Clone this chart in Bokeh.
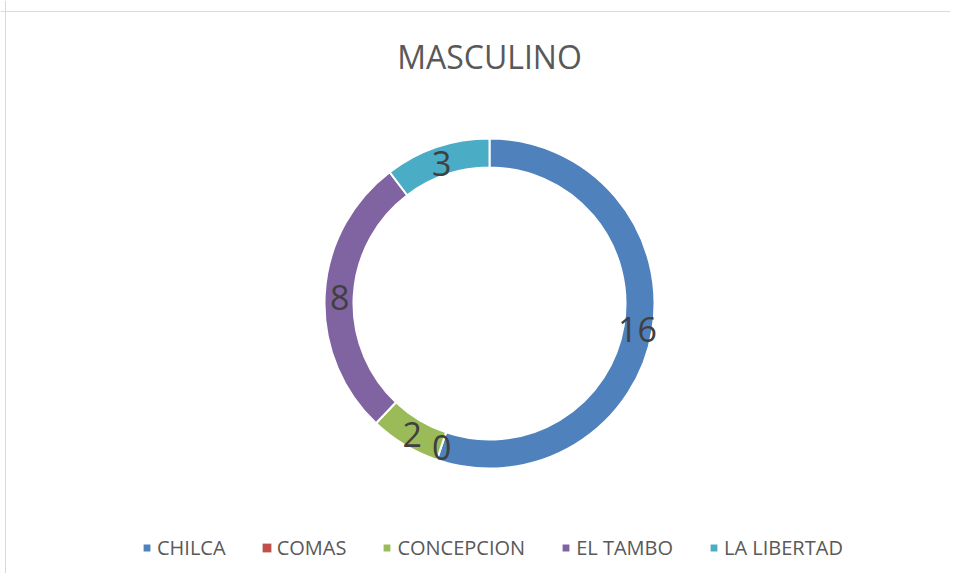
import math
from bokeh.plotting import figure
from bokeh.models import Legend, LegendItem, Span
from bokeh.core.properties import value
from bokeh.embed import file_html
from bokeh.resources import INLINE

title_text = "MASCULINO"
categories = ["CHILCA", "COMAS", "CONCEPCION", "EL TAMBO", "LA LIBERTAD"]
counts = [16, 0, 2, 8, 3]
colors = ["#4F81BD", "#C0504D", "#9BBB59", "#8064A2", "#4BACC6"]

W, H = 950, 573
cx, cy = 489, 270
r_in, r_out, r_lab = 136, 165, 150

total = sum(counts)

p = figure(width=W, height=H, output_backend="svg", toolbar_location=None,
           x_range=(0, W), y_range=(0, H), min_border=0)
p.axis.visible = False
p.grid.visible = False
p.outline_line_color = None
p.background_fill_color = "white"
p.border_fill_color = "white"

# chart-area border (top and left edges visible in reference)
p.add_layout(Span(location=H - 11, dimension="width", line_color="#d9d9d9", line_width=1))
p.add_layout(Span(location=5, dimension="height", line_color="#d9d9d9", line_width=1))

items = []
lx, ly, labs = [], [], []
cum = 0
for cat, v, col in zip(categories, counts, colors):
    a0 = math.pi / 2 - 2 * math.pi * cum / total
    a1 = math.pi / 2 - 2 * math.pi * (cum + v) / total
    mid = (a0 + a1) / 2
    lx.append(cx + r_lab * math.cos(mid))
    ly.append(cy - 2 + r_lab * math.sin(mid))
    labs.append(str(v))
    ri, ro = (r_in, r_out) if v > 0 else (0, 0)
    data = dict(x=[cx], y=[cy], s=[a1], e=[a0], ri=[ri], ro=[ro])
    r = p.annular_wedge(x="x", y="y", inner_radius="ri", outer_radius="ro",
                        start_angle="s", end_angle="e", source=data,
                        fill_color=col, line_color="white",
                        line_width=2 if v > 0 else 0)
    items.append(LegendItem(label=cat, renderers=[r]))
    cum += v

p.text(x=lx, y=ly, text=labs, text_align="center",
       text_baseline="middle", text_font=value("Open Sans"),
       text_font_size="34px", text_color="#404040")

p.text(x=[cx], y=[H - 56], text=[title_text], text_align="center",
       text_baseline="middle", text_font=value("Open Sans"),
       text_font_size="32px", text_color="#595959")

legend = Legend(items=items, orientation="horizontal", location=(141, 12),
                label_text_font="Open Sans", label_text_font_size="20px",
                label_text_color="#595959", glyph_width=11, glyph_height=11,
                label_standoff=5, spacing=35, border_line_color=None,
                background_fill_alpha=0, padding=0, margin=0,
                label_height=20)
p.add_layout(legend)

open("out.html", "w").write(file_html(p, INLINE))
